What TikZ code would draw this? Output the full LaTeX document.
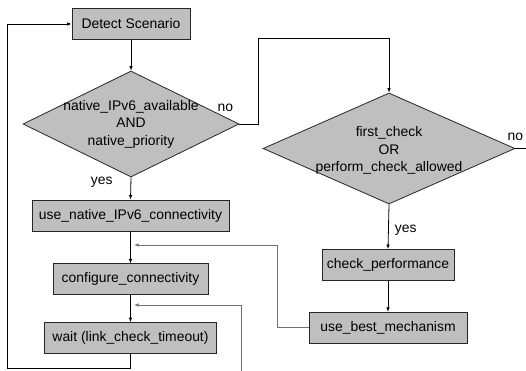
\documentclass[tikz,border=0pt]{standalone}
\usepackage{fontspec}
\setmainfont{Liberation Sans}
\usetikzlibrary{shapes.geometric,arrows.meta,positioning}

\def\boxheight{31pt}

\begin{document}
\begin{tikzpicture}[x=1pt, y=-1pt, ->, >={Latex[length=4.5pt,width=3.5pt]}, line width=0.8pt]
      \tikzstyle{every node}=[font=\fontsize{13.9}{17.5}\selectfont]
      \tikzstyle{stepbox}=[rectangle, draw=black!85, fill=black!25, minimum height=\boxheight, inner sep=0pt]
      \tikzstyle{decision}=[diamond, draw=black!85, fill=black!25, inner sep=0pt]
      \tikzstyle{back line}=[draw=black!55]
      \tikzstyle{annot}=[inner sep=0pt]

      \useasboundingbox (0,0) rectangle (526,371);

      % Draw the main column
      \node[stepbox, minimum width=118pt] (DETECT) at (131,24) {Detect Scenario};
      \node[decision, minimum width=216pt, minimum height=106pt] (D-NATIVE) at (131,124) {};
      \node[align=center] at (D-NATIVE) {native\_IPv6\_available\\AND\\native\_priority};
      \node[stepbox, minimum width=197pt] (NATIVE) at (130.5,215.5) {use\_native\_IPv6\_connectivity};
      \node[stepbox, minimum width=155pt, below=32pt of NATIVE] (CONF) {configure\_connectivity};
      \node[stepbox, minimum width=172pt, below=27pt of CONF] (WAIT) {wait (link\_check\_timeout)};

      % Draw the second check
      \node[decision, minimum width=252pt, minimum height=111pt] (D-CHECK) at (389,148.5) {};
      \node[align=center, yshift=-2pt] at (D-CHECK) {first\_check\\OR\\perform\_check\_allowed};
      \node[stepbox, minimum width=132pt] (CHECK) at (388,265) {check\_performance};
      \node[stepbox, minimum width=158pt, below=31pt of CHECK] (BEST) {use\_best\_mechanism};

      % Connect the boxes of each column
      \foreach \source/\dest in {DETECT/D-NATIVE, NATIVE/CONF, CONF/WAIT, CHECK/BEST}
          \draw (\source.south) -- (\dest.north);

      % Decisions
      \draw (D-NATIVE.south) -- node[pos=0.2, left=18pt, annot] {yes} (NATIVE.north);
      \draw (D-NATIVE.east) -- node[pos=0, above left=12pt and 6pt, annot] {no} ++(19,0)
          |- ([yshift=54pt]D-CHECK.north) -- (D-CHECK.north);
      \draw (D-CHECK.south) -- node[pos=0.58, right=6pt, annot] {yes} (CHECK.north);
      \draw[-] (D-CHECK.east) -- node[pos=0, above=7pt, annot] {no} ++(12,0);

      % Lines coming back into the main column
      \coordinate (J-1) at (134,245);
      \coordinate (J-2) at (134,305);
      \coordinate (FREE) at (241,372);
      \draw[back line] (BEST.west) -- ++(-31,0) |- (J-1);
      \draw[back line] (FREE) |- (J-2);
      \draw (WAIT.south) -- ++(0,14) -| ([xshift=-64pt]DETECT.west) -- (DETECT.west);
\end{tikzpicture}
\end{document}
